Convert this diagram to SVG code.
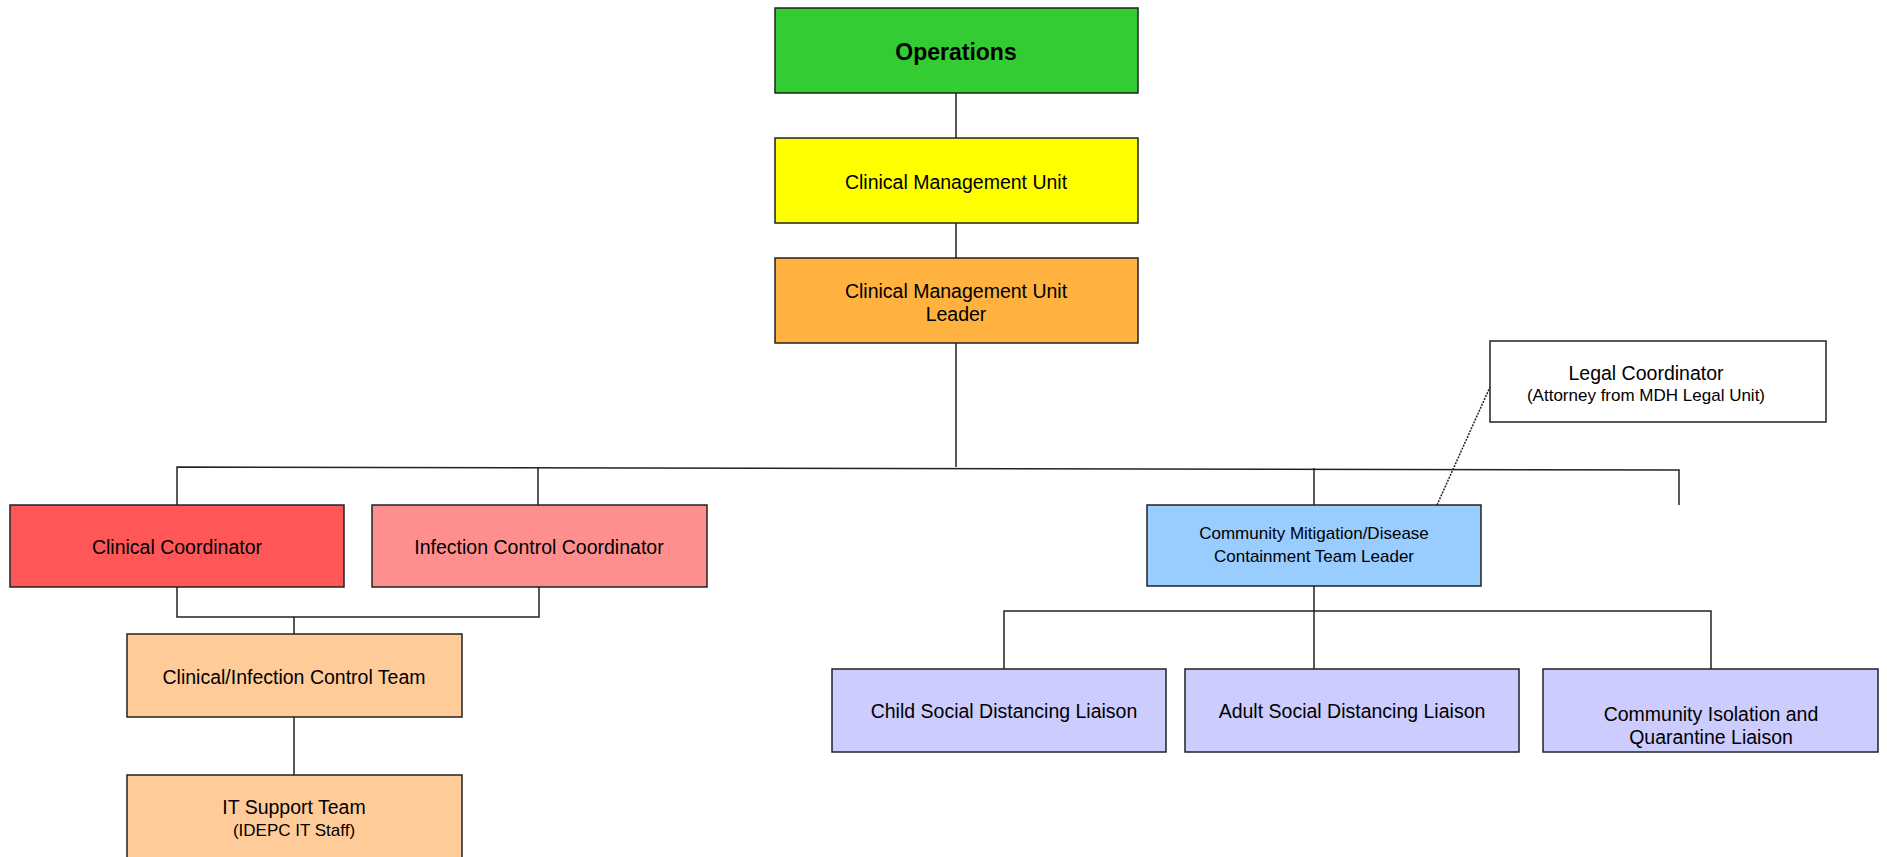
<svg xmlns="http://www.w3.org/2000/svg" width="1887" height="857" viewBox="0 0 1887 857">
<style>
.n{stroke:#222;stroke-width:1.5}
text{font-family:"Liberation Sans",Arial,sans-serif;font-size:19.5px;fill:#000;text-anchor:middle}
.s{font-size:17px}
.b{font-weight:bold;font-size:23px}
#connectors path{fill:none;stroke:#222;stroke-width:1.5}
#connectors .dot{stroke-dasharray:2 1.2}
</style>
<rect x="0" y="0" width="1887" height="857" fill="#fff"/>
<g id="connectors">
<path d="M956 93V138M956 223V258M956 343V467"/>
<path d="M177 505V467L1679 470V505"/>
<path d="M538 467V505M1314 468V505"/>
<path d="M177 587V617H539V587M294 617V634M294 717V775"/>
<path d="M1314 586V611M1004 669V611H1711V669M1314 611V669"/>
<path class="dot" d="M1437 505L1490 387"/>
</g>
<g id="operations"><rect class="n" x="775" y="8" width="363" height="85" fill="#33CC33"/><text class="b" x="956" y="60">Operations</text></g>
<g id="cmu"><rect class="n" x="775" y="138" width="363" height="85" fill="#FFFF00"/><text x="956" y="189">Clinical Management Unit</text></g>
<g id="cmu-leader"><rect class="n" x="775" y="258" width="363" height="85" fill="#FFB240"/><text x="956" y="298">Clinical Management Unit</text><text x="956" y="321">Leader</text></g>
<g id="legal"><rect class="n" x="1490" y="341" width="336" height="81" fill="#fff"/><text x="1646" y="380">Legal Coordinator</text><text class="s" x="1646" y="401">(Attorney from MDH Legal Unit)</text></g>
<g id="clinical-coord"><rect class="n" x="10" y="505" width="334" height="82" fill="#FF5757"/><text x="177" y="554">Clinical Coordinator</text></g>
<g id="infection-coord"><rect class="n" x="372" y="505" width="335" height="82" fill="#FF8F8F"/><text x="539" y="554">Infection Control Coordinator</text></g>
<g id="cm-leader"><rect class="n" x="1147" y="505" width="334" height="81" fill="#99CCFF"/><text class="s" x="1314" y="539">Community Mitigation/Disease</text><text class="s" x="1314" y="562">Containment Team Leader</text></g>
<g id="team"><rect class="n" x="127" y="634" width="335" height="83" fill="#FFCC99"/><text x="294" y="684">Clinical/Infection Control Team</text></g>
<g id="it"><rect class="n" x="127" y="775" width="335" height="90" fill="#FFCC99"/><text x="294" y="814">IT Support Team</text><text class="s" x="294" y="836">(IDEPC IT Staff)</text></g>
<g id="child"><rect class="n" x="832" y="669" width="334" height="83" fill="#CCCCFF"/><text x="1004" y="718">Child Social Distancing Liaison</text></g>
<g id="adult"><rect class="n" x="1185" y="669" width="334" height="83" fill="#CCCCFF"/><text x="1352" y="718">Adult Social Distancing Liaison</text></g>
<g id="isolation"><rect class="n" x="1543" y="669" width="335" height="83" fill="#CCCCFF"/><text x="1711" y="721">Community Isolation and</text><text x="1711" y="744">Quarantine Liaison</text></g>
</svg>
